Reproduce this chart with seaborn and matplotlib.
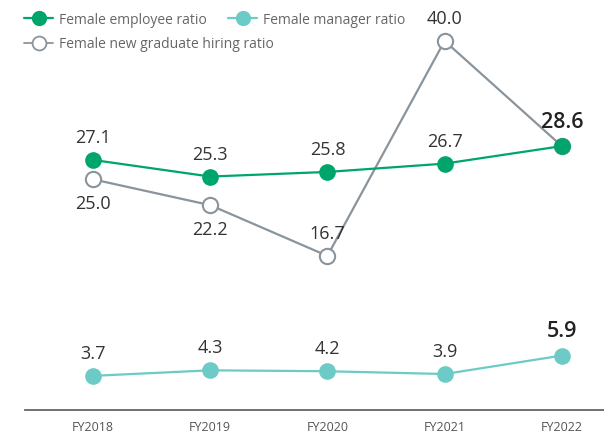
import matplotlib
matplotlib.use("Agg")
import matplotlib.pyplot as plt
import seaborn as sns
import pandas as pd
from matplotlib.lines import Line2D

# data
years = ["FY2018", "FY2019", "FY2020", "FY2021", "FY2022"]
employee_ratio = [27.1, 25.3, 25.8, 26.7, 28.6]
manager_ratio = [3.7, 4.3, 4.2, 3.9, 5.9]
new_grad_ratio = [25.0, 22.2, 16.7, 40.0, 28.6]

green = "#00a56b"
teal = "#6ccbc6"
gray = "#8a949c"
txt = "#333333"

sns.set_style("white")
plt.rcParams["font.family"] = ["Open Sans", "DejaVu Sans"]

df = pd.DataFrame({"x": range(len(years)), "employee": employee_ratio,
                   "manager": manager_ratio, "newgrad": new_grad_ratio})

fig = plt.figure(figsize=(6.04, 4.39), dpi=100)
ax = fig.add_axes([25 / 604, 28 / 439, 1 - 25 / 604, 1 - 33 / 439])

sns.lineplot(data=df, x="x", y="newgrad", ax=ax, color=gray, lw=1.6,
             marker="o", markersize=11, markerfacecolor="white",
             markeredgecolor=gray, markeredgewidth=1.5, zorder=2)
sns.lineplot(data=df, x="x", y="employee", ax=ax, color=green, lw=1.6,
             marker="o", markersize=12, markeredgewidth=0, zorder=3)
sns.lineplot(data=df, x="x", y="manager", ax=ax, color=teal, lw=1.6,
             marker="o", markersize=12, markeredgewidth=0, zorder=3)

def label(vals, where):
    for i, v in enumerate(vals):
        if where[i] is None:
            continue
        last = i == len(vals) - 1
        dy = 16.5 if where[i] == "up" else -17
        ax.annotate(f"{v:.1f}", (i, v), xytext=(0, dy + (1.5 if last else 0)),
                    textcoords="offset points", ha="center", va="center",
                    fontsize=15.5 if last else 13, color=txt if not last else "#222222",
                    fontweight="semibold" if last else "normal", zorder=5)

label(employee_ratio, ["up"] * 5)
label(manager_ratio, ["up"] * 5)
label(new_grad_ratio, ["down", "down", "up", "up", None])

ax.set_xlim(-0.58, 4.36)
ax.set_ylim(0, 44)
ax.set_xticks(range(len(years)))
ax.set_xticklabels(years, fontsize=9, color="#555555")
ax.set_yticks([])
ax.set_xlabel("")
ax.set_ylabel("")
ax.tick_params(axis="x", length=0, pad=7)
for s in ["top", "right", "left"]:
    ax.spines[s].set_visible(False)
ax.spines["bottom"].set_color("#666666")
ax.spines["bottom"].set_linewidth(1.3)

h_emp = Line2D([], [], color=green, lw=1.6, marker="o", markersize=11, markeredgewidth=0)
h_man = Line2D([], [], color=teal, lw=1.6, marker="o", markersize=11, markeredgewidth=0)
h_new = Line2D([], [], color=gray, lw=1.3, marker="o", markersize=10,
               markerfacecolor="white", markeredgecolor=gray, markeredgewidth=1.3)

leg_kw = dict(frameon=False, fontsize=10, labelcolor="#666666", handlelength=2.1,
              handletextpad=0.45, borderaxespad=0, borderpad=0)
fig.legend([h_emp, h_man], ["Female employee ratio", "Female manager ratio"],
           loc="center left", bbox_to_anchor=(24 / 604, 1 - 20 / 439),
           ncol=2, columnspacing=1.5, **leg_kw)
fig.legend([h_new], ["Female new graduate hiring ratio"],
           loc="center left", bbox_to_anchor=(24 / 604, 1 - 45 / 439), **leg_kw)

fig.savefig("out.png", dpi=100)
